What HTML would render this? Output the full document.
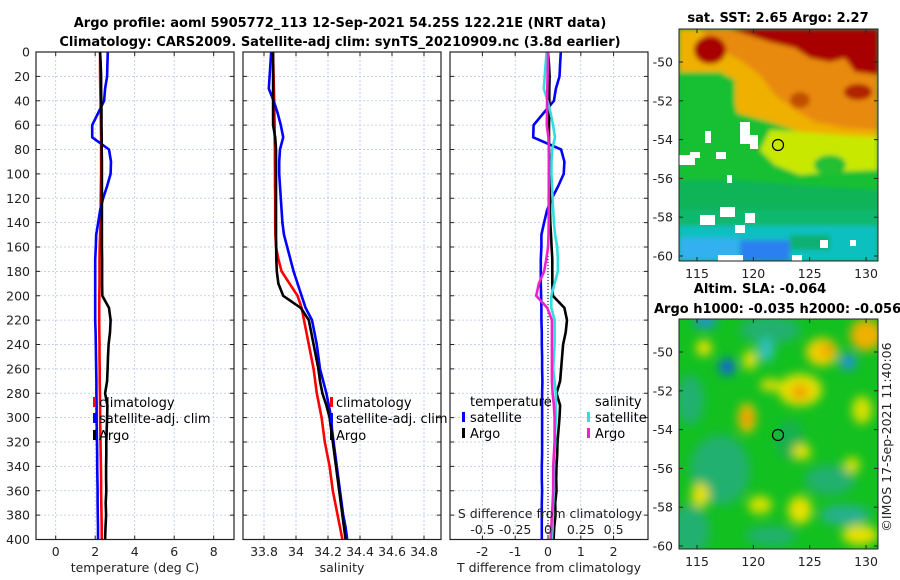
<!DOCTYPE html>
<html><head><meta charset="utf-8"><style>
html,body{margin:0;padding:0;background:#fff;}
svg{display:block;font-family:"DejaVu Sans","Liberation Sans",sans-serif;}
.tk{font-size:12.5px;fill:#222;}
.tt{font-size:13px;font-weight:bold;fill:#000;}
.lg{font-size:13px;fill:#000;}
</style></head><body>
<svg id="fig" width="900" height="580" viewBox="0 0 900 580">
<defs>
<filter id="bl" x="-20%" y="-20%" width="140%" height="140%"><feGaussianBlur stdDeviation="5"/></filter>
<filter id="bl2" x="-20%" y="-20%" width="140%" height="140%"><feGaussianBlur stdDeviation="2.5"/></filter>
<clipPath id="cm1"><rect x="679" y="29" width="199" height="232"/></clipPath>
<clipPath id="cm2"><rect x="679" y="319" width="199" height="230"/></clipPath>
<clipPath id="cp1"><rect x="36" y="52" width="198" height="488"/></clipPath>
<clipPath id="cp2"><rect x="243" y="52" width="198" height="488"/></clipPath>
<clipPath id="cp3"><rect x="450" y="52" width="198" height="488"/></clipPath>
</defs>
<text class="tt" x="340" y="27" text-anchor="middle">Argo profile: aoml 5905772_113 12-Sep-2021 54.25S 122.21E (NRT data)</text>
<text class="tt" x="340" y="46" text-anchor="middle">Climatology: CARS2009. Satellite-adj clim: synTS_20210909.nc (3.8d earlier)</text>

<!-- top map -->
<g>
<g clip-path="url(#cm1)">
<rect x="679" y="29" width="199" height="232" fill="#10b458"/>
<g filter="url(#bl2)">
<polygon points="679,70 740,70 760,110 800,130 878,135 878,190 800,185 740,180 679,180" fill="#18c030"/>
<polygon points="770,130 878,135 878,170 830,172 800,175 775,165 760,150" fill="#c8e800"/>
<ellipse cx="830" cy="165" rx="16" ry="10" fill="#22c030"/>
<rect x="679" y="225" width="199" height="36" fill="#10c0c0"/>
<rect x="679" y="238" width="60" height="23" fill="#30b0f0"/>
<rect x="740" y="240" width="50" height="21" fill="#2a80f0"/>
<rect x="790" y="235" width="40" height="15" fill="#10b070"/>
<rect x="679" y="210" width="199" height="12" fill="#10b870"/>
<polygon points="679,29 878,29 878,137 840,135 800,132 770,122 737,113 735,104 735,80 720,72 679,72" fill="#f0b000"/>
<polygon points="700,29 878,29 878,130 845,128 815,122 795,110 775,95 760,75 740,60 720,50" fill="#e88a10"/>
<polygon points="730,29 878,29 878,75 855,72 845,58 830,62 810,58 795,48 770,42" fill="#a80000"/>
<ellipse cx="710" cy="50" rx="16" ry="14" fill="#a80000"/>
<ellipse cx="858" cy="92" rx="14" ry="8" fill="#b02000"/>
<ellipse cx="800" cy="100" rx="10" ry="8" fill="#c05000"/>
</g>
<g fill="#ffffff">
<rect x="740" y="122" width="10" height="22"/><rect x="750" y="135" width="8" height="14"/>
<rect x="679" y="155" width="16" height="10"/><rect x="705" y="131" width="6" height="12"/>
<rect x="690" y="152" width="10" height="6"/><rect x="716" y="152" width="10" height="7"/>
<rect x="700" y="215" width="15" height="10"/><rect x="720" y="207" width="15" height="10"/>
<rect x="745" y="213" width="10" height="10"/><rect x="735" y="225" width="10" height="8"/>
<rect x="718" y="255" width="25" height="6"/><rect x="792" y="255" width="10" height="6"/>
<rect x="820" y="240" width="8" height="8"/><rect x="850" y="240" width="6" height="6"/>
<rect x="727" y="175" width="5" height="8"/>
</g>
</g>
<ellipse cx="778" cy="145" rx="5.5" ry="5.5" fill="none" stroke="#000" stroke-width="1.2"/>
<rect x="679" y="29" width="199" height="232" fill="none" stroke="#222" stroke-width="1"/>
</g>
<text class="tt" x="778" y="22" text-anchor="middle">sat. SST: 2.65 Argo: 2.27</text>

<!-- bottom map -->
<g>
<g clip-path="url(#cm2)">
<rect x="679" y="319" width="199" height="230" fill="#12c020"/>
<g filter="url(#bl)">
<ellipse cx="720" cy="470" rx="30" ry="35" fill="#20b070"/>
<ellipse cx="690" cy="530" rx="20" ry="25" fill="#20b070"/>
<ellipse cx="690" cy="400" rx="14" ry="25" fill="#20b070"/>
<ellipse cx="770" cy="330" rx="30" ry="14" fill="#20b070"/>
<ellipse cx="790" cy="440" rx="14" ry="20" fill="#18b050"/>
<ellipse cx="830" cy="480" rx="25" ry="15" fill="#20b070"/>
<ellipse cx="845" cy="515" rx="25" ry="10" fill="#28b090"/>
<ellipse cx="771" cy="536" rx="25" ry="10" fill="#20b070"/>
<ellipse cx="766" cy="350" rx="8" ry="12" fill="#30c0c0"/>
<ellipse cx="705" cy="322" rx="12" ry="6" fill="#2090e0"/>
<ellipse cx="727" cy="367" rx="8" ry="8" fill="#1060e0"/>
<ellipse cx="848" cy="362" rx="8" ry="8" fill="#2090e0"/>
<ellipse cx="704" cy="348" rx="8" ry="8" fill="#f0e000"/>
<ellipse cx="750" cy="360" rx="7" ry="10" fill="#e8e000"/>
<ellipse cx="822" cy="352" rx="16" ry="14" fill="#f0d000"/>
<ellipse cx="828" cy="350" rx="8" ry="6" fill="#f0a000"/>
<ellipse cx="866" cy="335" rx="16" ry="16" fill="#f0b000"/>
<ellipse cx="800" cy="390" rx="22" ry="16" fill="#e8e000"/>
<ellipse cx="800" cy="392" rx="9" ry="8" fill="#f0a000"/>
<ellipse cx="770" cy="385" rx="10" ry="6" fill="#e8e000"/>
<ellipse cx="747" cy="418" rx="9" ry="15" fill="#f0c000"/>
<ellipse cx="747" cy="418" rx="5" ry="8" fill="#f09000"/>
<ellipse cx="802" cy="452" rx="9" ry="8" fill="#e8e000"/>
<ellipse cx="700" cy="495" rx="9" ry="12" fill="#e8e000"/>
<ellipse cx="760" cy="505" rx="12" ry="9" fill="#d8e000"/>
<ellipse cx="800" cy="510" rx="12" ry="14" fill="#e8e000"/>
<ellipse cx="860" cy="535" rx="18" ry="10" fill="#e8e000"/>
<ellipse cx="862" cy="410" rx="10" ry="14" fill="#d8e000"/>
<ellipse cx="852" cy="465" rx="8" ry="8" fill="#d8e000"/>
</g>
</g>
<ellipse cx="778" cy="435" rx="5.5" ry="5.5" fill="none" stroke="#000" stroke-width="1.2"/>
<rect x="679" y="319" width="199" height="230" fill="none" stroke="#222" stroke-width="1"/>
</g>
<text class="tt" x="760" y="293" text-anchor="middle">Altim. SLA: -0.064</text>
<text class="tt" x="654" y="313">Argo h1000: -0.035 h2000: -0.056</text>
<text class="tk" transform="translate(891,437) rotate(-90)" text-anchor="middle">©IMOS 17-Sep-2021 11:40:06</text>

<g id="axes"></g>
<g id="legends">
<g>
<rect x="93" y="397" width="3" height="10" fill="#f00"/><text class="lg" x="99" y="407">climatology</text>
<rect x="93" y="413" width="3" height="10" fill="#00f"/><text class="lg" x="99" y="423">satellite-adj. clim</text>
<rect x="93" y="430" width="3" height="10" fill="#000"/><text class="lg" x="99" y="440">Argo</text>
</g>
<g>
<rect x="330" y="397" width="3" height="10" fill="#f00"/><text class="lg" x="336" y="407">climatology</text>
<rect x="330" y="413" width="3" height="10" fill="#00f"/><text class="lg" x="336" y="423">satellite-adj. clim</text>
<rect x="330" y="430" width="3" height="10" fill="#000"/><text class="lg" x="336" y="440">Argo</text>
</g>
<g>
<text class="lg" x="470" y="406">temperature</text>
<rect x="462" y="412" width="3" height="10" fill="#00f"/><text class="lg" x="470" y="422">satellite</text>
<rect x="462" y="428" width="3" height="10" fill="#000"/><text class="lg" x="470" y="438">Argo</text>
<text class="lg" x="595" y="406">salinity</text>
<rect x="587" y="412" width="3" height="10" fill="#33dddd"/><text class="lg" x="595" y="422">satellite</text>
<rect x="587" y="428" width="3" height="10" fill="#ee22cc"/><text class="lg" x="595" y="438">Argo</text>
</g>
</g>
</svg>
<script>
const depths=[0,10,20,30,40,50,60,70,80,90,100,110,120,130,140,150,160,170,180,190,200,210,220,230,240,250,260,270,280,290,300,310,320,330,340,350,360,370,380,390,400];
const tempClim=[2.25,2.25,2.25,2.26,2.27,2.28,2.29,2.3,2.3,2.3,2.3,2.29,2.28,2.28,2.27,2.25,2.23,2.22,2.22,2.22,2.21,2.2,2.2,2.21,2.22,2.22,2.23,2.23,2.24,2.25,2.25,2.26,2.27,2.28,2.29,2.3,2.3,2.31,2.32,2.33,2.33];
const tempSat=[2.64,2.62,2.6,2.5,2.45,2.15,1.85,1.85,2.7,2.8,2.78,2.6,2.4,2.25,2.15,2.05,2.03,2.0,2.0,2.0,2.0,2.0,2.0,2.02,2.03,2.04,2.05,2.06,2.06,2.07,2.07,2.08,2.09,2.1,2.1,2.11,2.12,2.12,2.13,2.14,2.14];
const tempArgo=[2.25,2.28,2.3,2.3,2.31,2.32,2.32,2.33,2.33,2.34,2.34,2.34,2.34,2.34,2.34,2.34,2.34,2.35,2.35,2.35,2.36,2.7,2.78,2.75,2.68,2.65,2.63,2.6,2.5,2.62,2.6,2.58,2.56,2.56,2.55,2.55,2.56,2.53,2.55,2.52,2.5];
const salClim=[33.856,33.858,33.86,33.862,33.864,33.865,33.866,33.867,33.868,33.868,33.869,33.869,33.87,33.87,33.87,33.871,33.875,33.89,33.91,33.96,34.01,34.035,34.05,34.065,34.08,34.095,34.11,34.12,34.13,34.145,34.16,34.17,34.18,34.195,34.21,34.22,34.23,34.245,34.26,34.275,34.29];
const salSat=[33.845,33.84,33.835,33.83,33.86,33.885,33.905,33.92,33.9,33.895,33.895,33.9,33.905,33.91,33.915,33.925,33.945,33.965,33.985,34.01,34.035,34.06,34.1,34.115,34.13,34.14,34.15,34.17,34.19,34.205,34.22,34.225,34.235,34.245,34.255,34.265,34.275,34.285,34.295,34.31,34.32];
const salArgo=[33.856,33.857,33.857,33.857,33.857,33.857,33.857,33.87,33.875,33.875,33.875,33.875,33.875,33.875,33.875,33.875,33.876,33.877,33.88,33.89,33.92,34.03,34.08,34.095,34.11,34.125,34.14,34.15,34.165,34.19,34.21,34.22,34.23,34.24,34.25,34.26,34.27,34.28,34.29,34.3,34.31];
const depthTicks=[0,20,40,60,80,100,120,140,160,180,200,220,240,260,280,300,320,340,360,380,400];
const tempTicks=[0,2,4,6,8];
const salTicks=[33.8,34,34.2,34.4,34.6,34.8];
const salTickLabels=["33.8","34","34.2","34.4","34.6","34.8"];
const tdiffTicks=[-2,-1,0,1,2];
const sdiffTicks=[-0.5,-0.25,0,0.25,0.5];
const sdiffTickLabels=["-0.5","-0.25","0","0.25","0.5"];

const NS='http://www.w3.org/2000/svg';
const root=document.getElementById('axes');
function mk(tag,attrs,parent){const e=document.createElementNS(NS,tag);for(const k in attrs)e.setAttribute(k,attrs[k]);(parent||root).appendChild(e);return e;}
const Y0=52,Y1=539.5;
const yD=d=>Y0+(Y1-Y0)*d/400;
const xT=t=>55.7+19.75*t;
const xS=s=>264+(s-33.8)*160;
const xTd=t=>548+32.8*t;
const xSd=s=>548+131.2*s;

function panel(x0,name,xTickVals,xTickLbls,xfn,xlabel,showY){
  const g=mk('g',{});
  
  
  const w=198;
  depthTicks.forEach(d=>{
    const l=mk('line',{x1:x0,x2:x0+w,y1:yD(d),y2:yD(d),stroke:'#b8c4e8','stroke-width':0.8,'stroke-dasharray':'2,2'},g);
    
    
    mk('line',{x1:x0,x2:x0+4,y1:yD(d),y2:yD(d),stroke:'#222'},g);
    mk('line',{x1:x0+w-4,x2:x0+w,y1:yD(d),y2:yD(d),stroke:'#222'},g);
    if(showY){
      const t=mk('text',{x:x0-6,y:yD(d)+4.5,'text-anchor':'end',class:'tk'},g);
      
      
      t.textContent=d;
    }
  });
  xTickVals.forEach((v,i)=>{
    const x=xfn(v);
    const l=mk('line',{x1:x,x2:x,y1:Y0,y2:Y1,stroke:'#b8c4e8','stroke-width':0.8,'stroke-dasharray':'2,2'},g);
    
    
    mk('line',{x1:x,x2:x,y1:Y1-4,y2:Y1,stroke:'#222'},g);
    mk('line',{x1:x,x2:x,y1:Y0,y2:Y0+4,stroke:'#222'},g);
    const t=mk('text',{x:x,y:556,'text-anchor':'middle',class:'tk'},g);
    
    
    t.textContent=xTickLbls[i];
  });
  const xl=mk('text',{x:x0+w/2,y:572,'text-anchor':'middle',class:'tk'},g);
  
  
  xl.textContent=xlabel;
  return g;
}
function line(g,vals,xfn,color,name,clip){
  const pts=vals.map((v,i)=>xfn(v).toFixed(1)+','+yD(depths[i]).toFixed(1)).join(' ');
  const p=mk('polyline',{points:pts,fill:'none',stroke:color,'stroke-width':2.6,'stroke-linejoin':'round','clip-path':'url(#'+clip+')'},g);
  
  
}
function frame(g,x0){mk('rect',{x:x0,y:Y0,width:198,height:Y1-Y0,fill:'none',stroke:'#222','stroke-width':1.2},g);}

const g1=panel(36,'temperature-panel',tempTicks,tempTicks.map(String),xT,'temperature (deg C)',true);
line(g1,tempClim,xT,'#ff0000','climatology-temperature-line','cp1');
line(g1,tempSat,xT,'#0000ff','satellite-temperature-line','cp1');
line(g1,tempArgo,xT,'#000000','argo-temperature-line','cp1');
frame(g1,36);

const g2=panel(243,'salinity-panel',salTicks,salTickLabels,xS,'salinity',false);
line(g2,salClim,xS,'#ff0000','climatology-salinity-line','cp2');
line(g2,salSat,xS,'#0000ff','satellite-salinity-line','cp2');
line(g2,salArgo,xS,'#000000','argo-salinity-line','cp2');
frame(g2,243);

const g3=panel(450,'difference-panel',tdiffTicks,tdiffTicks.map(String),xTd,'T difference from climatology',false);
const zl=mk('line',{x1:xTd(0),x2:xTd(0),y1:Y0,y2:Y1,stroke:'#000','stroke-width':1,'stroke-dasharray':'1,2'},g3);


line(g3,tempSat.map((v,i)=>v-tempClim[i]),xTd,'#0000ff','satellite-temperature-difference-line','cp3');
line(g3,tempArgo.map((v,i)=>v-tempClim[i]),xTd,'#000000','argo-temperature-difference-line','cp3');
line(g3,salSat.map((v,i)=>v-salClim[i]),xSd,'#33dddd','satellite-salinity-difference-line','cp3');
line(g3,salArgo.map((v,i)=>v-salClim[i]),xSd,'#ee22cc','argo-salinity-difference-line','cp3');
sdiffTicks.forEach((v,i)=>{
  const t=mk('text',{x:xSd(v),y:534,'text-anchor':'middle',class:'tk'},g3);
  
  
  t.textContent=sdiffTickLabels[i];
});
const st=mk('text',{x:550,y:518,'text-anchor':'middle',class:'tk'},g3);


st.textContent='S difference from climatology';
frame(g3,450);

const latTicks=[-50,-52,-54,-56,-58,-60];
const lonTicks=[115,120,125,130];
function mapAxes(ytop,ybot,lat50){
  const g=mk('g',{});
  
  
  latTicks.forEach(l=>{
    const y=lat50+(-50-l)*19.4;
    mk('line',{x1:679,x2:683,y1:y,y2:y,stroke:'#222'},g);
    mk('line',{x1:874,x2:878,y1:y,y2:y,stroke:'#222'},g);
    const t=mk('text',{x:673,y:y+4.5,'text-anchor':'end',class:'tk'},g);
    
    
    t.textContent=l;
  });
  lonTicks.forEach(l=>{
    const x=697+(l-115)*11.27;
    mk('line',{x1:x,x2:x,y1:ybot-4,y2:ybot,stroke:'#222'},g);
    mk('line',{x1:x,x2:x,y1:ytop,y2:ytop+4,stroke:'#222'},g);
    const t=mk('text',{x:x,y:ybot+17,'text-anchor':'middle',class:'tk'},g);
    
    
    t.textContent=l;
  });
}
mapAxes(29,261,62);
mapAxes(319,549,352);
</script>
</body></html>
